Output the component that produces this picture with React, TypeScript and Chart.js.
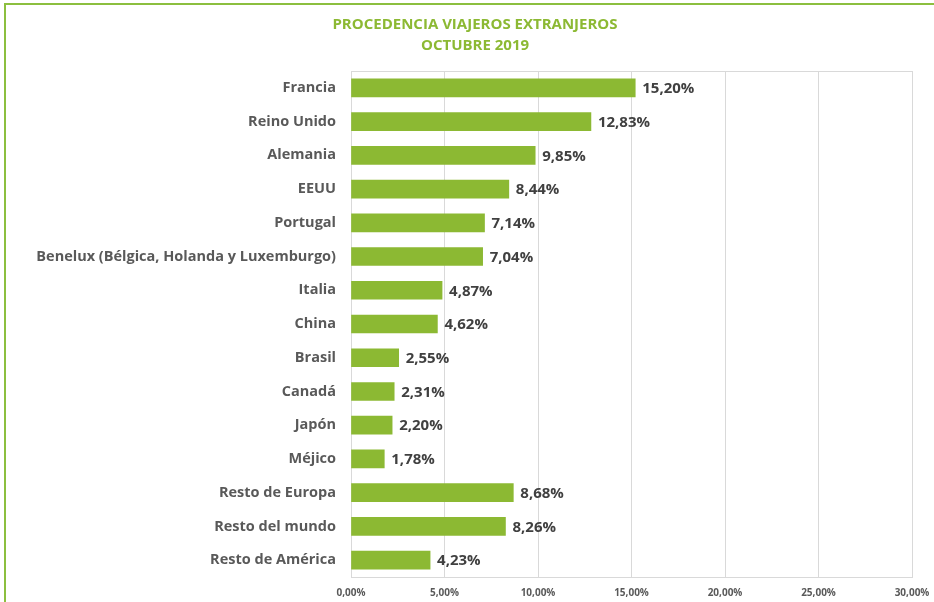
import React, { useEffect, useRef } from "react";
import { Chart, registerables } from "chart.js";

Chart.register(...registerables);

const categories = [
  "Francia",
  "Reino Unido",
  "Alemania",
  "EEUU",
  "Portugal",
  "Benelux (Bélgica, Holanda y Luxemburgo)",
  "Italia",
  "China",
  "Brasil",
  "Canadá",
  "Japón",
  "Méjico",
  "Resto de Europa",
  "Resto del mundo",
  "Resto de América",
];

const values = [15.2, 12.83, 9.85, 8.44, 7.14, 7.04, 4.87, 4.62, 2.55, 2.31, 2.2, 1.78, 8.68, 8.26, 4.23];

const titleLines = ["PROCEDENCIA VIAJEROS EXTRANJEROS", "OCTUBRE 2019"];

const fmt = (v: number) => v.toFixed(2).replace(".", ",") + "%";

const GREEN = "#8cb933";
const FONT = "'Open Sans', sans-serif";

const boxPlugin = {
  id: "boxPlugin",
  beforeDatasetsDraw(chart: any) {
    const { ctx, chartArea } = chart;
    ctx.save();
    ctx.strokeStyle = "#d9d9d9";
    ctx.lineWidth = 1;
    ctx.strokeRect(
      Math.round(chartArea.left) + 0.5,
      Math.round(chartArea.top) + 0.5,
      Math.round(chartArea.right - chartArea.left),
      Math.round(chartArea.bottom - chartArea.top)
    );
    ctx.restore();
  },
};

const titlePlugin = {
  id: "titlePlugin",
  afterDraw(chart: any) {
    const { ctx } = chart;
    ctx.save();
    ctx.font = `bold 15px ${FONT}`;
    ctx.fillStyle = GREEN;
    ctx.textAlign = "center";
    ctx.textBaseline = "middle";
    ctx.fillText(titleLines[0], 475, 25);
    ctx.fillText(titleLines[1], 475, 46);
    ctx.restore();
  },
};

const labelPlugin = {
  id: "labelPlugin",
  afterDatasetsDraw(chart: any) {
    const { ctx } = chart;
    const meta = chart.getDatasetMeta(0);
    ctx.save();
    ctx.font = `bold 15px ${FONT}`;
    ctx.fillStyle = "#404040";
    ctx.textAlign = "left";
    ctx.textBaseline = "middle";
    meta.data.forEach((bar: any, i: number) => {
      ctx.fillText(fmt(values[i]), bar.x + 7, bar.y + 1);
    });
    ctx.restore();
  },
};

export default function App() {
  const ref = useRef<HTMLCanvasElement | null>(null);

  useEffect(() => {
    document.body.style.margin = "0";
    document.body.style.overflow = "hidden";
    const canvas = ref.current!;
    const chart = new Chart(canvas, {
      type: "bar",
      data: {
        labels: categories,
        datasets: [
          {
            data: values,
            backgroundColor: GREEN,
            borderWidth: 0,
            barThickness: 18,
          },
        ],
      },
      options: {
        indexAxis: "y",
        animation: false,
        responsive: false,
        maintainAspectRatio: false,
        layout: { padding: { left: 0, right: 38, top: 71, bottom: 0 } },
        plugins: {
          legend: { display: false },
          tooltip: { enabled: false },
          title: { display: false },
        },
        scales: {
          x: {
            min: 0,
            max: 30,
            ticks: {
              stepSize: 5,
              color: "#595959",
              font: { family: FONT, size: 10, weight: "bold" },
              padding: 10,
              callback: (v: any) => fmt(Number(v)),
            },
            grid: { color: "#d9d9d9", drawTicks: false },
            border: { display: false },
            afterFit: (s: any) => {
              s.height = 25;
            },
          },
          y: {
            ticks: {
              color: "#595959",
              font: { family: FONT, size: 14.5, weight: "bold" },
              padding: 15,
              autoSkip: false,
            },
            grid: { display: false, drawTicks: false },
            border: { display: false },
            afterFit: (s: any) => {
              s.width = 351;
            },
          },
        },
      },
      plugins: [boxPlugin, labelPlugin, titlePlugin],
    });
    return () => chart.destroy();
  }, []);

  return (
    <div style={{ position: "relative", width: 934, height: 602, overflow: "hidden" }}>
      <canvas
        ref={ref}
        width={950}
        height={602}
        style={{ position: "absolute", left: 0, top: 0, width: 950, height: 602 }}
      />
      <div
        style={{
          position: "absolute",
          left: 4,
          top: 3,
          width: 1000,
          height: 700,
          borderTop: "2px solid #8cbf3f",
          borderLeft: "2px solid #8cbf3f",
          pointerEvents: "none",
        }}
      />
    </div>
  );
}
